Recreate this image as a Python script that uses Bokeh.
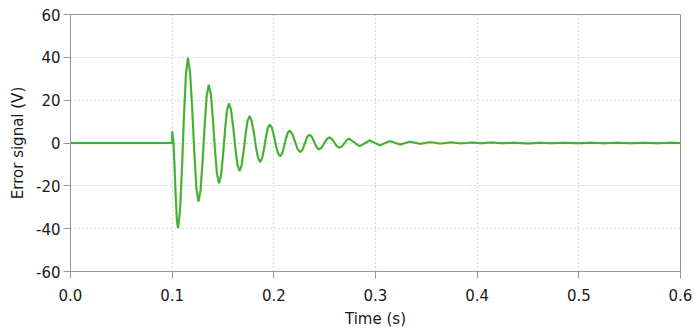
from bokeh.plotting import figure
from bokeh.models import Range1d, FixedTicker, NumeralTickFormatter
from bokeh.embed import file_html
from bokeh.resources import INLINE

# Time (s) and error signal (V)
time_s = [0.0, 0.0999, 0.1000,
          0.10114, 0.10228, 0.10342, 0.10456, 0.1057,
          0.10766, 0.10962, 0.11158, 0.11354, 0.1155,
          0.11758, 0.11966, 0.12174, 0.12382, 0.1259,
          0.12792, 0.12994, 0.13196, 0.13398, 0.1360,
          0.13802, 0.14004, 0.14206, 0.14408, 0.1461,
          0.14804, 0.14998, 0.15192, 0.15386, 0.1558,
          0.1579, 0.1600, 0.1621, 0.1642, 0.1663,
          0.16824, 0.17018, 0.17212, 0.17406, 0.1760,
          0.1781, 0.1802, 0.1823, 0.1844, 0.1865,
          0.1884, 0.1903, 0.1922, 0.1941, 0.1960,
          0.19802, 0.20004, 0.20206, 0.20408, 0.2061,
          0.20798, 0.20986, 0.21174, 0.21362, 0.2155,
          0.21813, 0.22075, 0.22338, 0.2260,
          0.22825, 0.2305, 0.23275, 0.2350,
          0.23738, 0.23975, 0.24213, 0.2445,
          0.2470, 0.2495, 0.2520, 0.2545,
          0.2570, 0.2595, 0.2620, 0.2645,
          0.26693, 0.26935, 0.27178, 0.2742,
          0.27925, 0.2843, 0.2893, 0.2943, 0.2993, 0.3043,
          0.3093, 0.3143, 0.3193, 0.3243, 0.32915, 0.3340,
          0.344, 0.354, 0.364, 0.374, 0.384, 0.394, 0.404, 0.414,
          0.425, 0.437, 0.450, 0.462, 0.473, 0.486, 0.500, 0.512,
          0.525, 0.538, 0.551, 0.564, 0.577, 0.590, 0.600]
error_v = [0.0, 0.0, 5.4,
           1.1, -10.2, -24.1, -35.4, -39.7,
           -32.1, -12.3, 12.3, 32.1, 39.7,
           33.3, 16.5, -4.2, -21.0, -27.4,
           -22.2, -8.5, 8.3, 22.0, 27.2,
           22.8, 11.3, -2.9, -14.4, -18.8,
           -15.2, -5.9, 5.6, 15.0, 18.5,
           15.5, 7.6, -2.2, -10.1, -13.1,
           -10.6, -4.2, 3.7, 10.1, 12.6,
           10.5, 5.2, -1.5, -6.8, -8.9,
           -7.2, -2.9, 2.6, 7.0, 8.6,
           7.2, 3.5, -1.1, -4.8, -6.2,
           -5.1, -2.1, 1.7, 4.7, 5.8,
           4.3, 0.75, -2.8, -4.3,
           -3.1, -0.2, 2.7, 3.9,
           2.9, 0.45, -2.0, -3.0,
           -2.2, -0.2, 1.8, 2.6,
           1.9, 0.2, -1.5, -2.2,
           -1.6, -0.1, 1.4, 2.0,
           0.25, -1.5, -0.15, 1.2, 0.05, -1.1,
           -0.1, 0.9, 0.1, -0.7, -0.05, 0.6,
           -0.4, 0.4, -0.3, 0.3, -0.2, 0.2, -0.15, 0.2,
           -0.1, 0.15, -0.2, 0.1, -0.1, 0.15, -0.15, 0.1,
           -0.15, 0.15, -0.1, 0.1, -0.15, 0.1, 0.0]

x_ticks = [0.0, 0.1, 0.2, 0.3, 0.4, 0.5, 0.6]
y_ticks = [-60, -40, -20, 0, 20, 40, 60]
y_tick_labels = ["-60", "-40", "-20", "0", "20", "40", "60"]

FONT = "DejaVu Sans"
AXIS_COLOR = "#8a9ca2"

p = figure(width=699, height=330, output_backend="svg", toolbar_location=None,
           x_range=Range1d(0, 0.6), y_range=Range1d(-60, 60),
           min_border_left=70, min_border_right=19, min_border_top=14,
           min_border_bottom=56)
p.background_fill_color = "white"
p.border_fill_color = "white"
p.outline_line_color = "#9c9494"
p.outline_line_width = 1

p.line(time_s, error_v, line_color="#e6e44c", line_width=2.6, line_alpha=0.9)
p.line(time_s, error_v, line_color="#34b050", line_width=1.9)

for ax in (p.xaxis[0], p.yaxis[0]):
    ax.axis_line_color = AXIS_COLOR
    ax.major_tick_line_color = AXIS_COLOR
    ax.minor_tick_line_color = None
    ax.major_tick_out = 7
    ax.major_tick_in = 0
    ax.major_label_text_font = FONT
    ax.major_label_text_font_size = "15px"
    ax.major_label_text_color = "#1a1a1a"
    ax.axis_label_text_font = FONT
    ax.axis_label_text_font_size = "15px"
    ax.axis_label_text_font_style = "normal"
    ax.axis_label_text_color = "#1a1a1a"

p.xaxis.ticker = FixedTicker(ticks=x_ticks)
p.xaxis.formatter = NumeralTickFormatter(format="0.0")
p.xaxis.axis_label = "Time (s)"
p.xaxis.major_label_standoff = 10
p.xaxis.axis_label_standoff = 6

p.yaxis.ticker = FixedTicker(ticks=y_ticks)
p.yaxis.major_label_overrides = dict(zip(y_ticks, y_tick_labels))
p.yaxis.axis_label = "Error signal (V)"
p.yaxis.major_label_standoff = 3
p.yaxis.axis_label_standoff = 6

for g in (p.xgrid[0], p.ygrid[0]):
    g.grid_line_color = "#8fc3d8"
    g.grid_line_dash = "1 3"
    g.grid_line_width = 1.2

open("out.html", "w").write(file_html(p, INLINE))
